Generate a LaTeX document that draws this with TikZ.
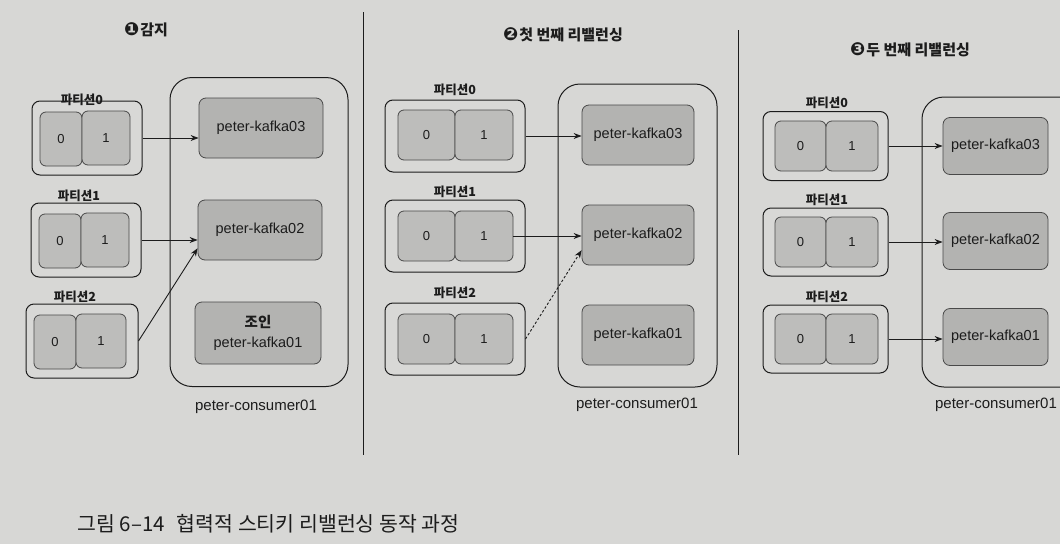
\documentclass[tikz,border=0pt]{standalone}
\usepackage{fontspec}
\setmainfont{Liberation Sans}
\newfontfamily\kr{Noto Sans CJK KR}
\newfontfamily\symfont{DejaVu Sans}
\usetikzlibrary{calc,arrows.meta}
\definecolor{paper}{HTML}{D7D7D5}
\definecolor{cellgray}{HTML}{BDBDBB}
\definecolor{kgray}{HTML}{B3B3B1}
\definecolor{ink}{HTML}{1C1C1C}
\tikzset{
  outerbox/.style={draw=ink, line width=1pt, rounded corners=8pt, fill=paper!97!white},
  cellbox/.style={draw=ink!80, line width=0.8pt, rounded corners=6pt, fill=cellgray, font=\fontsize{13}{15}\selectfont, text=ink},
  kbox/.style={draw=ink!80, line width=0.8pt, rounded corners=7pt, fill=kgray, font=\fontsize{14.5}{20}\selectfont, text=ink, align=center},
  consbox/.style={draw=ink, line width=1pt, rounded corners=22pt},
  plabel/.style={font=\kr\bfseries\fontsize{12.5}{14}\selectfont, text=ink},
  clabel/.style={font=\fontsize{15}{17}\selectfont, text=ink},
  ptitle/.style={font=\kr\bfseries\fontsize{15}{17}\selectfont, text=ink},
  conn/.style={draw=ink, line width=0.9pt, -{Stealth[length=8pt,width=6pt]}},
  divider/.style={draw=ink, line width=1pt},
}
\newcommand{\cnum}[1]{{\symfont\fontsize{18}{18}\selectfont #1}\hspace{1pt}}
\begin{document}
\begin{tikzpicture}[x=1pt,y=-1pt]
\fill[paper] (0,0) rectangle (1060,544);
\useasboundingbox (0,0) rectangle (1060,544);

% ---------- Panel 1 ----------
\node[ptitle] (t1) at (146,30) {\cnum{❶}감지};
\node[consbox, minimum width=178pt, minimum height=309pt] (c1) at (259,232) {};
\node[clabel] (c1l) at (256,407) {peter-consumer01};
\node[kbox, minimum width=124pt, minimum height=60pt] (a3) at (261,128) {peter-kafka03};
\node[kbox, minimum width=124pt, minimum height=60pt] (a2) at (260,230) {peter-kafka02};
\node[kbox, minimum width=126pt, minimum height=62pt] (a1) at (258,333) {{\kr\bfseries 조인}\\peter-kafka01};

\node[outerbox, minimum width=110pt, minimum height=74pt] (p10) at (87,138) {};
\node[cellbox, minimum width=42pt, minimum height=54pt] (p10a) at (61,139) {0};
\node[cellbox, minimum width=48pt, minimum height=54pt] (p10b) at (106,138) {1};
\node[plabel] (p10l) at (82,100) {파티션0};

\node[outerbox, minimum width=110pt, minimum height=74pt] (p11) at (86,240) {};
\node[cellbox, minimum width=42pt, minimum height=54pt] (p11a) at (60,241) {0};
\node[cellbox, minimum width=48pt, minimum height=54pt] (p11b) at (105,240) {1};
\node[plabel] (p11l) at (79,196) {파티션1};

\node[outerbox, minimum width=112pt, minimum height=74pt] (p12) at (82,341) {};
\node[cellbox, minimum width=42pt, minimum height=54pt] (p12a) at (55,342) {0};
\node[cellbox, minimum width=50pt, minimum height=54pt] (p12b) at (101,341) {1};
\node[plabel] (p12l) at (75,297) {파티션2};

\draw[conn] (p10.east) -- (p10.east -| a3.west);
\draw[conn] (p11.east) -- (p11.east -| a2.west);
\draw[conn] (p12.east) -- ($(a2.south west)!0.2!(a2.north west)$);

% divider 1
\coordinate (d1t) at (363,12);
\coordinate (d1b) at (363,455);
\draw[divider] (d1t) -- (d1b);

% ---------- Panel 2 ----------
\node[ptitle] (t2) at (563,35) {\cnum{❷}첫 번째 리밸런싱};
\node[consbox, minimum width=159pt, minimum height=303pt] (c2) at (637.5,235.5) {};
\node[clabel] (c2l) at (637,405) {peter-consumer01};
\node[kbox, minimum width=112pt, minimum height=60pt] (b3) at (638,135) {peter-kafka03};
\node[kbox, minimum width=112pt, minimum height=60pt] (b2) at (638,235) {peter-kafka02};
\node[kbox, minimum width=112pt, minimum height=60pt] (b1) at (638,335) {peter-kafka01};

\node[outerbox, minimum width=140pt, minimum height=72pt] (p20) at (455,136) {};
\node[cellbox, minimum width=57pt, minimum height=50pt] (p20a) at (426.5,135) {0};
\node[cellbox, minimum width=58pt, minimum height=50pt] (p20b) at (484,135) {1};
\node[plabel] (p20l) at (455,90) {파티션0};

\node[outerbox, minimum width=140pt, minimum height=72pt] (p21) at (455,236) {};
\node[cellbox, minimum width=57pt, minimum height=50pt] (p21a) at (426.5,236) {0};
\node[cellbox, minimum width=58pt, minimum height=50pt] (p21b) at (484,236) {1};
\node[plabel] (p21l) at (455,192) {파티션1};

\node[outerbox, minimum width=140pt, minimum height=72pt] (p22) at (455,339) {};
\node[cellbox, minimum width=57pt, minimum height=50pt] (p22a) at (426.5,339) {0};
\node[cellbox, minimum width=58pt, minimum height=50pt] (p22b) at (484,339) {1};
\node[plabel] (p22l) at (455,293) {파티션2};

\draw[conn] (p20.east) -- (p20.east -| b3.west);
\draw[conn] (p21b.east) -- (p21b.east -| b2.west);
\draw[conn, dash pattern=on 2.5pt off 2pt] (p22.east) -- ($(b2.south west)!0.25!(b2.north west)$);

% divider 2
\coordinate (d2t) at (738,30);
\coordinate (d2b) at (738,455);
\draw[divider] (d2t) -- (d2b);

% ---------- Panel 3 ----------
\node[ptitle] (t3) at (910,50) {\cnum{❸}두 번째 리밸런싱};
\node[consbox, minimum width=170pt, minimum height=290pt] (c3) at (1007,242) {};
\node[clabel] (c3l) at (996,405) {peter-consumer01};
\node[kbox, minimum width=105pt, minimum height=57pt] (e3) at (995.5,146) {peter-kafka03};
\node[kbox, minimum width=105pt, minimum height=57pt] (e2) at (995.5,241) {peter-kafka02};
\node[kbox, minimum width=105pt, minimum height=57pt] (e1) at (995.5,337) {peter-kafka01};

\node[outerbox, minimum width=125pt, minimum height=69pt] (p30) at (825.5,146) {};
\node[cellbox, minimum width=51pt, minimum height=50pt] (p30a) at (800.5,146) {0};
\node[cellbox, minimum width=52pt, minimum height=50pt] (p30b) at (852,146) {1};
\node[plabel] (p30l) at (827,103) {파티션0};

\node[outerbox, minimum width=125pt, minimum height=68pt] (p31) at (825.5,242) {};
\node[cellbox, minimum width=51pt, minimum height=50pt] (p31a) at (800.5,242) {0};
\node[cellbox, minimum width=52pt, minimum height=50pt] (p31b) at (852,242) {1};
\node[plabel] (p31l) at (827,200) {파티션1};

\node[outerbox, minimum width=125pt, minimum height=68pt] (p32) at (825.5,339) {};
\node[cellbox, minimum width=51pt, minimum height=50pt] (p32a) at (800.5,339) {0};
\node[cellbox, minimum width=52pt, minimum height=50pt] (p32b) at (852,339) {1};
\node[plabel] (p32l) at (827,297) {파티션2};

\draw[conn] (p30.east) -- (p30.east -| e3.west);
\draw[conn] (p31.east) -- (p31.east -| e2.west);
\draw[conn] (p32.east) -- (p32.east -| e1.west);

% ---------- Caption ----------
\node[anchor=west, font=\kr\fontsize{20.5}{23}\selectfont, text=ink] (cap) at (74,524) {그림 6–14\hspace{12pt}협력적 스티키 리밸런싱 동작 과정};
\end{tikzpicture}
\end{document}
